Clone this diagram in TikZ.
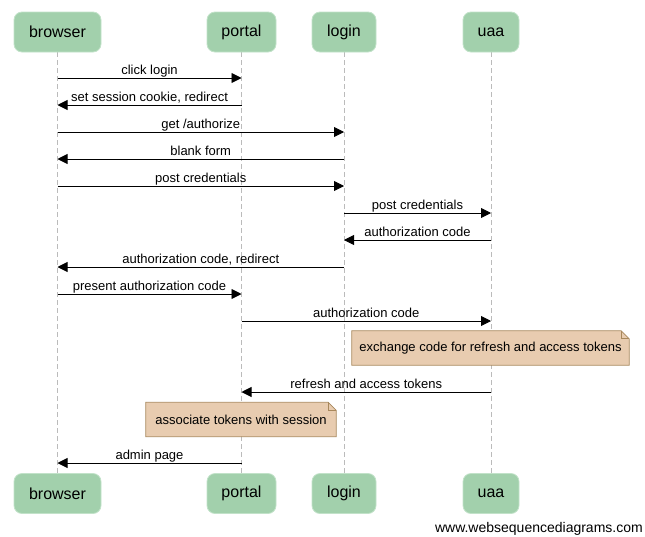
\documentclass[tikz,border=0pt]{standalone}
\usepackage{fontspec}
\setmainfont{Liberation Sans}
\usetikzlibrary{arrows.meta,backgrounds}

\definecolor{actfill}{HTML}{A2D0AC}
\definecolor{actedge}{HTML}{C2E2C9}
\definecolor{notefill}{HTML}{E8CCB0}
\definecolor{noteedge}{HTML}{A8885C}
\definecolor{lifegray}{HTML}{BBBBBB}

\tikzset{
    actor/.style={rounded corners=8pt, fill=actfill, draw=actedge, line width=0.8pt,
        minimum height=40pt, inner sep=0pt, font=\fontsize{16}{18}\selectfont},
    msg/.style={-{Triangle[length=10pt,width=10pt]}, line width=0.9pt},
    lbl/.style={anchor=base, inner sep=0pt, yshift=3.5pt, font=\fontsize{13}{15}\selectfont},
    life/.style={draw=lifegray, line width=0.8pt, dash pattern=on 5pt off 3pt},
    notebox/.style={inner sep=0pt, minimum height=34pt, font=\fontsize{13}{15}\selectfont},
    foldedge/.style={fill=notefill, draw=noteedge, line width=0.8pt},
}

\begin{document}
\begin{tikzpicture}[x=1pt, y=-1pt]
    \useasboundingbox (0,0) rectangle (645,536);

    \node[actor, minimum width=87pt] (browser) at (57.5,32) {browser};
    \node[actor, minimum width=69pt] (portal) at (241.5,32) {portal};
    \node[actor, minimum width=64pt] (login) at (344,32) {login};
    \node[actor, minimum width=56pt] (uaa) at (491,32) {uaa};

    \node[actor, minimum width=87pt] (browser2) at (57.5,493.5) {browser};
    \node[actor, minimum width=69pt] (portal2) at (241.5,493.5) {portal};
    \node[actor, minimum width=64pt] (login2) at (344,493.5) {login};
    \node[actor, minimum width=56pt] (uaa2) at (491,493.5) {uaa};

    \begin{scope}[on background layer]
        \foreach \a in {browser,portal,login,uaa}
            \draw[life] (\a.south) -- (\a2.north);
    \end{scope}

    \foreach \y/\f/\t/\txt in {
        78/browser/portal/{click login},
        105/portal/browser/{set session cookie, redirect},
        132/browser/login/{get /authorize},
        159/login/browser/{blank form},
        186/browser/login/{post credentials},
        213/login/uaa/{post credentials},
        240/uaa/login/{authorization code},
        267/login/browser/{authorization code, redirect},
        294/browser/portal/{present authorization code},
        321/portal/uaa/{authorization code},
        392/uaa/portal/{refresh and access tokens},
        463/portal/browser/{admin page}}
        \draw[msg] (\f |- 0,\y) -- (\t |- 0,\y) node[lbl, midway] {\txt};

    \node[notebox, minimum width=277pt] (exch) at (490.5,348)
        {exchange code for refresh and access tokens};
    \node[notebox, minimum width=190pt] (assoc) at (241,419.5)
        {associate tokens with session};

    \begin{scope}[on background layer]
        \foreach \n in {exch,assoc} {
            \draw[foldedge] (\n.north west) -- ([xshift=-8pt]\n.north east)
                -- ([yshift=-8pt]\n.north east) -- (\n.south east)
                -- (\n.south west) -- cycle;
            \draw[draw=noteedge, line width=0.8pt] ([xshift=-8pt]\n.north east)
                |- ([yshift=-8pt]\n.north east);
        }
    \end{scope}

    \node[anchor=base east, inner sep=0pt, font=\fontsize{14}{16}\selectfont] (site)
        at (643,532) {www.websequencediagrams.com};
\end{tikzpicture}
\end{document}
